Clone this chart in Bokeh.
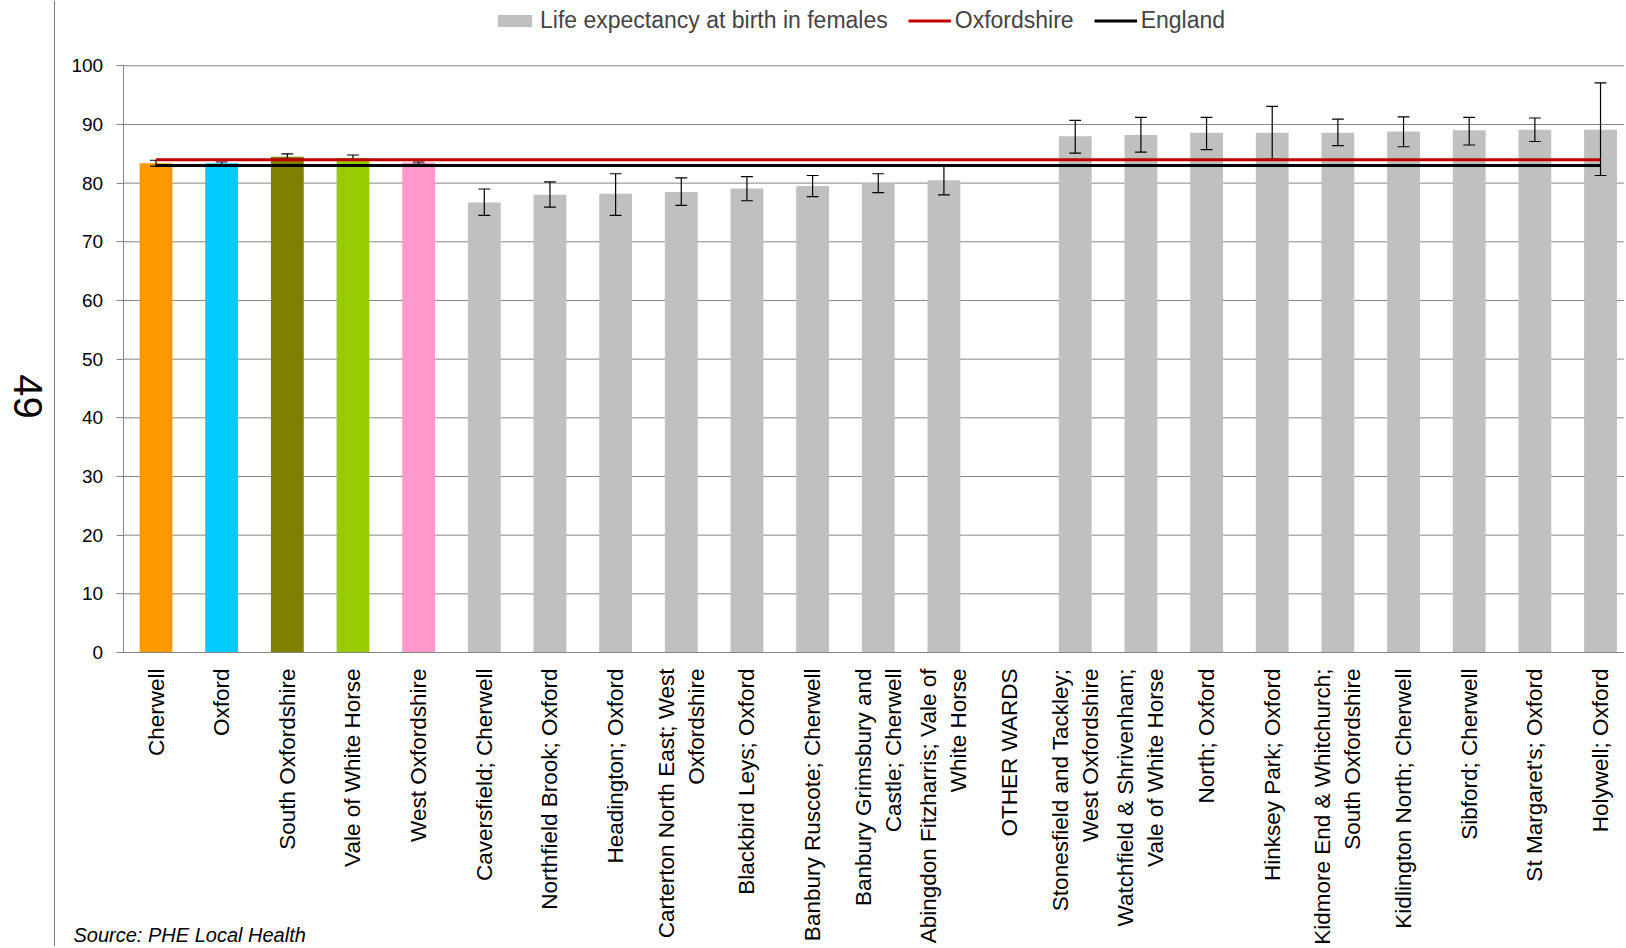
import math
from bokeh.plotting import figure
from bokeh.models import (ColumnDataSource, Range1d, LinearAxis, Legend, LegendItem,
                          Label, Span, FixedTicker)
from bokeh.embed import file_html
from bokeh.resources import INLINE

# ---------------- data ----------------
categories = [
    "Cherwell", "Oxford", "South Oxfordshire", "Vale of White Horse", "West Oxfordshire",
    "Caversfield; Cherwell", "Northfield Brook; Oxford", "Headington; Oxford",
    "Carterton North East; West\nOxfordshire", "Blackbird Leys; Oxford",
    "Banbury Ruscote; Cherwell", "Banbury Grimsbury and\nCastle; Cherwell",
    "Abingdon Fitzharris; Vale of\nWhite Horse", "OTHER WARDS",
    "Stonesfield and Tackley;\nWest Oxfordshire", "Watchfield & Shrivenham;\nVale of White Horse",
    "North; Oxford", "Hinksey Park; Oxford", "Kidmore End & Whitchurch;\nSouth Oxfordshire",
    "Kidlington North; Cherwell", "Sibford; Cherwell", "St Margaret's; Oxford", "Holywell; Oxford",
]

district_names = categories[:5]
district_values = [83.4, 83.4, 84.5, 84.3, 83.5]
district_lower = [82.9, 83.1, 84.1, 83.9, 83.2]
district_upper = [83.9, 83.6, 85.0, 84.8, 83.6]
district_colors = ["#FF9900", "#00CCFF", "#808000", "#99CC00", "#FF99CC"]

ward_names = categories[5:13] + categories[14:]
ward_values = [76.7, 78.0, 78.2, 78.5, 79.1, 79.5, 80.0, 80.5,
               88.0, 88.2, 88.6, 88.6, 88.6, 88.8, 89.0, 89.1, 89.1]
ward_lower = [74.5, 75.9, 74.5, 76.2, 77.0, 77.7, 78.4, 78.0,
              85.1, 85.3, 85.7, 84.1, 86.4, 86.2, 86.5, 87.1, 81.3]
ward_upper = [79.0, 80.2, 81.6, 80.9, 81.1, 81.3, 81.6, 83.0,
              90.7, 91.2, 91.2, 93.1, 90.9, 91.3, 91.2, 91.1, 97.1]

oxfordshire_value = 84.0
england_value = 83.0
y_ticks = list(range(0, 101, 10))

series_label = "Life expectancy at birth in females"
page_number = "49"
source_text = "Source: PHE Local Health"

# ---------------- helpers ----------------
FONT = "Liberation Sans"
GRID = "#868686"
W, H = 1624, 946

pos = {c: i for i, c in enumerate(categories)}
n = len(categories)

# pixel layout of the plotting area (category 0 centre, spacing, y=0 and y=100 rows)
x0_px, step_px = 155.5, 65.66
y0_px, y100_px = 652.0, 65.3
upp = 100.0 / (y0_px - y100_px)

x_range = Range1d(-x0_px / step_px, (W - x0_px) / step_px)
y_range = Range1d(-(H - y0_px) * upp, 100 + y100_px * upp)

p = figure(x_range=x_range, y_range=y_range, width=W, height=H,
           output_backend="svg", toolbar_location=None,
           x_axis_type=None, y_axis_type=None,
           min_border_left=0, min_border_right=0, min_border_top=0, min_border_bottom=0)
p.outline_line_color = None
p.background_fill_color = "white"
p.border_fill_color = "white"

# grid lines (horizontal, from the value axis to the right edge)
p.segment(x0=[-0.5] * len(y_ticks), x1=[n - 0.5] * len(y_ticks), y0=y_ticks, y1=y_ticks,
          line_color=GRID, line_width=1)

# bars
dist_src = ColumnDataSource(dict(x=[pos[c] for c in district_names], top=district_values,
                                 color=district_colors))
p.vbar(x="x", top="top", width=0.5, source=dist_src, fill_color="color", line_color=None)

ward_src = ColumnDataSource(dict(x=[pos[c] for c in ward_names], top=ward_values))
ward_r = p.vbar(x="x", top="top", width=0.5, source=ward_src, fill_color="#C0C0C0",
                line_color=None)

# error bars
ex = [pos[c] for c in district_names + ward_names]
err_src = ColumnDataSource(dict(x=ex, xl=[v - 0.09 for v in ex], xr=[v + 0.09 for v in ex],
                                lo=district_lower + ward_lower,
                                hi=district_upper + ward_upper))
p.segment(x0="x", x1="x", y0="lo", y1="hi", source=err_src, line_color="#000000",
          line_width=1.2)
for fld in ("lo", "hi"):
    p.segment(x0="xl", x1="xr", y0=fld, y1=fld, source=err_src, line_color="#000000",
              line_width=1.2)

# reference lines
xs = list(range(n))
oxon_r = p.line(x=xs, y=[oxfordshire_value] * n, line_color="#C00000", line_width=3)
eng_r = p.line(x=xs, y=[england_value] * n, line_color="#000000", line_width=3)

# axes (fixed at the plot-area edges)
yaxis = LinearAxis(fixed_location=-0.5, bounds=(0, 100), ticker=FixedTicker(ticks=y_ticks))
yaxis.minor_tick_line_color = None
yaxis.major_tick_out = 7
yaxis.major_tick_in = 0
yaxis.major_tick_line_color = GRID
yaxis.axis_line_color = GRID
yaxis.major_label_text_font = FONT
yaxis.major_label_text_font_size = "19px"
yaxis.major_label_text_color = "#000000"
yaxis.major_label_standoff = 13
p.add_layout(yaxis, "left")

xaxis = LinearAxis(fixed_location=0, bounds=(-0.5, n - 0.5), ticker=FixedTicker(ticks=xs),
                   major_label_overrides={i: c for i, c in enumerate(categories)})
xaxis.major_tick_line_color = None
xaxis.major_tick_out = 0
xaxis.major_tick_in = 0
xaxis.minor_tick_line_color = None
xaxis.axis_line_color = GRID
xaxis.major_label_orientation = math.pi / 2
xaxis.major_label_text_font = FONT
xaxis.major_label_text_font_size = "22.5px"
xaxis.major_label_text_color = "#000000"
xaxis.major_label_standoff = 16
p.add_layout(xaxis, "below")

# legend
legend = Legend(items=[LegendItem(label=series_label, renderers=[ward_r]),
                       LegendItem(label="Oxfordshire", renderers=[oxon_r]),
                       LegendItem(label="England", renderers=[eng_r])],
                orientation="horizontal", location=(493, H - 34),
                glyph_width=43, glyph_height=15, label_standoff=4, spacing=20,
                padding=0, margin=0, border_line_color=None,
                background_fill_alpha=0, label_text_font=FONT,
                label_text_font_size="23px", label_height=23)
p.add_layout(legend, "center")

# page decorations
p.add_layout(Span(location=54, location_units="screen", dimension="height",
                  line_color="#808080", line_width=1))
p.add_layout(Label(x=27, y=H - 396, x_units="screen", y_units="screen", text=page_number,
                   angle=-math.pi / 2, text_align="center", text_baseline="middle",
                   text_font=FONT, text_font_size="40px", text_color="#000000"))
p.add_layout(Label(x=73, y=H - 934, x_units="screen", y_units="screen", text=source_text,
                   text_align="left", text_baseline="middle", text_font=FONT,
                   text_font_style="italic", text_font_size="20px", text_color="#000000"))

open("out.html", "w").write(file_html(p, INLINE))
